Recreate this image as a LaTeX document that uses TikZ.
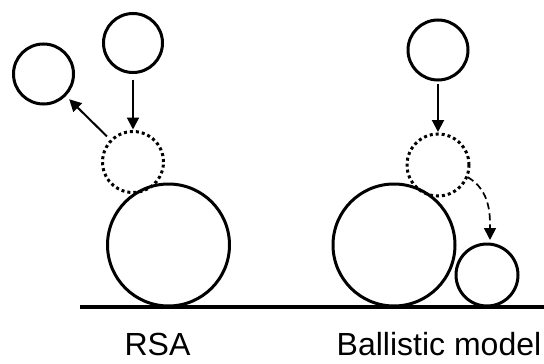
\documentclass[tikz,border=0pt]{standalone}
\usepackage{fontspec}
\setmainfont{Liberation Sans}
\usetikzlibrary{arrows.meta,calc}
\begin{document}
\begin{tikzpicture}[x=1pt,y=-1pt,
  ball/.style={circle,draw,line width=3pt,inner sep=0pt,outer sep=0pt,minimum size=#1},
  ghost/.style={ball=#1,dash pattern=on 3pt off 3pt},
  arr/.style={line width=2pt,-{Triangle[length=12pt,width=12pt]}},
  darr/.style={line width=1.7pt,dash pattern=on 7pt off 4pt,-{Triangle[length=12pt,width=12pt]}},
  lbl/.style={font=\fontsize{32}{36}\selectfont,anchor=base,inner sep=0pt}]
\useasboundingbox (0,0) rectangle (544,364);
% ground
\coordinate (g1) at (80,307);
\coordinate (g2) at (544,307);
\draw[line width=4pt] (g1) -- (g2);
% RSA
\node[ball=59pt] (t1) at (133,43) {};
\node[ball=60pt] (l1) at (43.5,74) {};
\node[ghost=61pt] (d1) at (133,162) {};
\node[ball=122pt] (b1) at (168.5,245) {};
\draw[arr,shorten <=7pt,shorten >=2pt] (t1.south) -- (d1.north);
\draw[arr,shorten <=6pt,shorten >=6pt] (d1) -- (l1);
\node[lbl] (rsa) at (157.5,355) {RSA};
% Ballistic
\node[ball=60pt] (t2) at (438,50) {};
\node[ghost=62pt] (d2) at (438,165) {};
\node[ball=122pt] (b2) at (394,245) {};
\node[ball=62pt] (s2) at (487,275) {};
\draw[arr,shorten <=4pt,shorten >=2pt] (t2.south) -- (d2.north);
\draw[darr,shorten <=1pt,shorten >=4pt] (d2.-22) to[out=-30,in=90] ($(s2.north)+(3,0)$);
\node[lbl] (bal) at (439,355) {Ballistic model};
\end{tikzpicture}
\end{document}
